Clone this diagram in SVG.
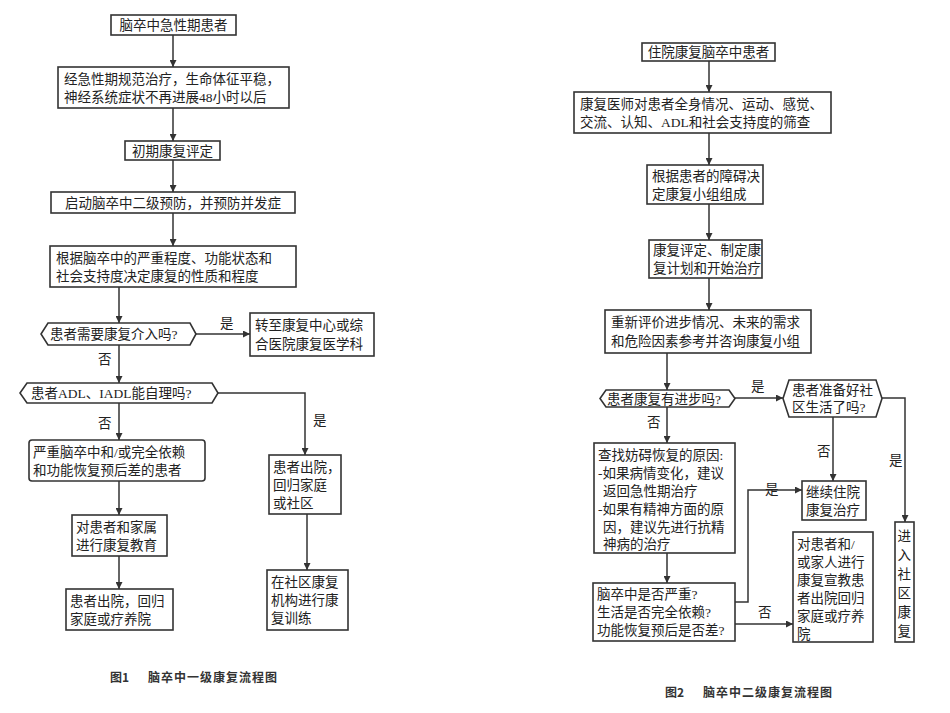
<svg xmlns="http://www.w3.org/2000/svg" width="950" height="713" viewBox="0 0 950 713">
<style>
.b{fill:#fff;stroke:#333;stroke-width:1.6}
.t{font-family:"Liberation Serif","Noto Sans CJK SC",serif;font-size:13.5px;fill:#222}
.l{fill:none;stroke:#333;stroke-width:1.5}
.c{font-family:"Noto Sans CJK SC",sans-serif;font-size:12px;font-weight:bold;fill:#333}
</style>
<defs><marker id="a" viewBox="0 0 10 10" refX="10" refY="5" markerWidth="7" markerHeight="7" orient="auto" markerUnits="userSpaceOnUse"><path d="M0,0L10,5L0,10z" fill="#333"/></marker></defs>
<rect width="950" height="713" fill="#fff"/>
<g id="connectors" class="l" marker-end="url(#a)">
<path d="M173,35V67"/><path d="M173,108V141"/><path d="M173,160V192"/><path d="M173,213V246"/>
<path d="M119,287V323"/><path d="M196,334H250"/><path d="M119,345V383"/>
<path d="M218,393H305V455"/><path d="M119,403V440"/><path d="M119,481V515"/><path d="M119,556V589"/><path d="M307,514V570"/>
<path d="M709,61V92"/><path d="M709,133V165"/><path d="M709,204V240"/><path d="M709,278V310"/>
<path d="M667,353V390"/><path d="M735,398H783"/><path d="M882,398H905V522"/><path d="M833,417V481"/>
<path d="M667,407V443"/><path d="M667,553V583"/><path d="M735,602H748V490H802"/><path d="M735,624H793"/>
</g>
<g class="t">
<text x="220" y="328">是</text><text x="98" y="364">否</text><text x="313" y="425">是</text><text x="98" y="428">否</text>
<text x="751" y="391">是</text><text x="889" y="465">是</text><text x="817" y="456">否</text><text x="647" y="427">否</text><text x="765" y="494">是</text><text x="758" y="617">否</text>
</g>
<g id="n1"><rect class="b" x="111" y="15" width="125" height="20"/><text class="t" x="173.5" y="30" text-anchor="middle">脑卒中急性期患者</text></g>
<g id="n2"><rect class="b" x="58" y="67" width="231" height="41"/><text class="t" x="64" y="84">经急性期规范治疗，生命体征平稳，</text><text class="t" x="64" y="102">神经系统症状不再进展48小时以后</text></g>
<g id="n3"><rect class="b" x="125" y="141" width="95" height="19"/><text class="t" x="172.5" y="155.5" text-anchor="middle">初期康复评定</text></g>
<g id="n4"><rect class="b" x="51" y="192" width="244" height="21"/><text class="t" x="173" y="207.5" text-anchor="middle">启动脑卒中二级预防，并预防并发症</text></g>
<g id="n5"><rect class="b" x="50" y="246" width="246" height="41"/><text class="t" x="56" y="263">根据脑卒中的严重程度、功能状态和</text><text class="t" x="56" y="281">社会支持度决定康复的性质和程度</text></g>
<g id="d1"><path class="b" d="M48,323H190L196,334L190,345H48L41,334Z"/><text class="t" x="50" y="339">患者需要康复介入吗?</text></g>
<g id="n6"><rect class="b" x="250" y="313" width="124" height="43"/><text class="t" x="255" y="330">转至康复中心或综</text><text class="t" x="255" y="349">合医院康复医学科</text></g>
<g id="d2"><path class="b" d="M27,383H212L218,393L212,403H27L20,393Z"/><text class="t" x="31" y="398">患者ADL、IADL能自理吗?</text></g>
<g id="n7"><rect class="b" x="29" y="440" width="176" height="41" rx="3"/><text class="t" x="33" y="457">严重脑卒中和/或完全依赖</text><text class="t" x="33" y="475">和功能恢复预后差的患者</text></g>
<g id="n8"><rect class="b" x="72" y="515" width="95" height="41"/><text class="t" x="76" y="532">对患者和家属</text><text class="t" x="76" y="550">进行康复教育</text></g>
<g id="n9"><rect class="b" x="66" y="589" width="107" height="41"/><text class="t" x="70" y="606">患者出院，回归</text><text class="t" x="70" y="624">家庭或疗养院</text></g>
<g id="n10"><rect class="b" x="269" y="455" width="72" height="59"/><text class="t" x="273" y="472">患者出院，</text><text class="t" x="273" y="490">回归家庭</text><text class="t" x="273" y="508">或社区</text></g>
<g id="n11"><rect class="b" x="267" y="570" width="81" height="60"/><text class="t" x="271" y="587">在社区康复</text><text class="t" x="271" y="605">机构进行康</text><text class="t" x="271" y="623">复训练</text></g>
<text class="c" x="110" y="682">图1</text><text class="c" x="148" y="682" letter-spacing="1">脑卒中一级康复流程图</text>

<g id="r1"><rect class="b" x="642" y="43" width="133" height="18"/><text class="t" x="708.5" y="57" text-anchor="middle">住院康复脑卒中患者</text></g>
<g id="r2"><rect class="b" x="574" y="92" width="257" height="41"/><text class="t" x="580" y="109">康复医师对患者全身情况、运动、感觉、</text><text class="t" x="580" y="127">交流、认知、ADL和社会支持度的筛查</text></g>
<g id="r3"><rect class="b" x="647" y="165" width="116" height="39"/><text class="t" x="652" y="181">根据患者的障碍决</text><text class="t" x="652" y="199">定康复小组组成</text></g>
<g id="r4"><rect class="b" x="649" y="240" width="113" height="38"/><text class="t" x="653" y="255">康复评定、制定康</text><text class="t" x="653" y="273">复计划和开始治疗</text></g>
<g id="r5"><rect class="b" x="605" y="310" width="206" height="43"/><text class="t" x="611" y="327">重新评价进步情况、未来的需求</text><text class="t" x="611" y="346">和危险因素参考并咨询康复小组</text></g>
<g id="rd1"><path class="b" d="M606,390H729L735,398.5L729,407H606L600,398.5Z"/><text class="t" x="607" y="403.5">患者康复有进步吗?</text></g>
<g id="rd2"><path class="b" d="M789,380H876L882,398.5L876,417H789L783,398.5Z"/><text class="t" x="792" y="395">患者准备好社</text><text class="t" x="792" y="412">区生活了吗?</text></g>
<g id="r6"><rect class="b" x="802" y="481" width="64" height="39"/><text class="t" x="806" y="497">继续住院</text><text class="t" x="806" y="515">康复治疗</text></g>
<g id="r7"><rect class="b" x="594" y="443" width="141" height="110"/>
<text class="t" x="598" y="460">查找妨碍恢复的原因:</text><text class="t" x="598" y="478">-如果病情变化，建议</text><text class="t" x="603" y="496">返回急性期治疗</text><text class="t" x="598" y="514">-如果有精神方面的原</text><text class="t" x="603" y="532">因，建议先进行抗精</text><text class="t" x="603" y="549">神病的治疗</text></g>
<g id="r8"><rect class="b" x="593" y="583" width="142" height="58"/><text class="t" x="597" y="599">脑卒中是否严重?</text><text class="t" x="597" y="617">生活是否完全依赖?</text><text class="t" x="597" y="635">功能恢复预后是否差?</text></g>
<g id="r9"><rect class="b" x="793" y="532" width="80" height="110"/>
<text class="t" x="797" y="549">对患者和/</text><text class="t" x="797" y="567">或家人进行</text><text class="t" x="797" y="585">康复宣教患</text><text class="t" x="797" y="603">者出院回归</text><text class="t" x="797" y="621">家庭或疗养</text><text class="t" x="797" y="639">院</text></g>
<g id="r10"><rect class="b" x="895" y="522" width="19" height="120"/>
<text class="t" x="897.5" y="541">进</text><text class="t" x="897.5" y="560">入</text><text class="t" x="897.5" y="579">社</text><text class="t" x="897.5" y="598">区</text><text class="t" x="897.5" y="617">康</text><text class="t" x="897.5" y="636">复</text></g>
<text class="c" x="665" y="697">图2</text><text class="c" x="703" y="697" letter-spacing="1">脑卒中二级康复流程图</text>
</svg>
